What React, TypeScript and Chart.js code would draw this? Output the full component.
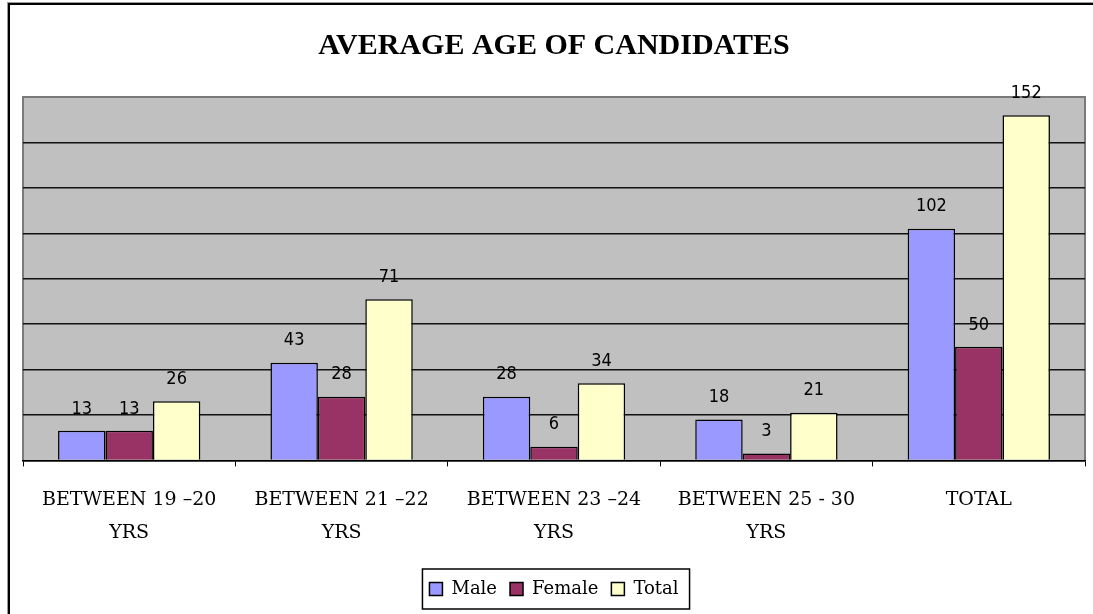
import React, { useEffect, useRef } from "react";
import { Chart, registerables } from "chart.js";

Chart.register(...registerables);

const categories: string[][] = [
  ["BETWEEN 19 \u201320", "YRS"],
  ["BETWEEN 21 \u201322", "YRS"],
  ["BETWEEN 23 \u201324", "YRS"],
  ["BETWEEN 25 - 30", "YRS"],
  ["TOTAL"],
];
const maleValues = [13, 43, 28, 18, 102];
const femaleValues = [13, 28, 6, 3, 50];
const totalValues = [26, 71, 34, 21, 152];
const seriesNames = ["Male", "Female", "Total"];
const yMax = 160;
const yStep = 20;

const SERIF = '"DejaVu Serif", serif';

const backgroundPlugin = {
  id: "bgPlugin",
  beforeDraw(chart: any) {
    const { ctx, chartArea, width, height } = chart;
    ctx.save();
    ctx.fillStyle = "#ffffff";
    ctx.fillRect(0, 0, width, height);
    // outer border
    ctx.fillStyle = "#9a9a9a";
    ctx.fillRect(7, 2, 1, height);
    ctx.fillRect(7, 2, width, 1);
    ctx.fillStyle = "#000000";
    ctx.fillRect(8, 3, 2, height);
    ctx.fillRect(8, 3, width, 2);
    // plot area
    ctx.fillStyle = "#c0c0c0";
    ctx.fillRect(chartArea.left, chartArea.top, chartArea.right - chartArea.left, chartArea.bottom - chartArea.top);
    ctx.strokeStyle = "#7a7a7a";
    ctx.lineWidth = 2;
    ctx.beginPath();
    ctx.moveTo(chartArea.left, chartArea.bottom);
    ctx.lineTo(chartArea.left, chartArea.top);
    ctx.lineTo(chartArea.right, chartArea.top);
    ctx.lineTo(chartArea.right, chartArea.bottom);
    ctx.stroke();
    ctx.restore();
  },
};

const valueLabelPlugin = {
  id: "valueLabels",
  afterDatasetsDraw(chart: any) {
    const { ctx } = chart;
    ctx.save();
    ctx.font = '18px "DejaVu Sans Condensed", "DejaVu Sans", sans-serif';
    ctx.fillStyle = "#000000";
    ctx.textAlign = "center";
    ctx.textBaseline = "middle";
    chart.data.datasets.forEach((ds: any, i: number) => {
      const meta = chart.getDatasetMeta(i);
      meta.data.forEach((bar: any, j: number) => {
        ctx.fillText(String(ds.data[j]), bar.x, bar.y - 22);
      });
    });
    ctx.restore();
  },
};

const legendBoxPlugin = {
  id: "legendBox",
  afterDraw(chart: any) {
    const boxes = chart.legend && chart.legend.legendHitBoxes;
    if (!boxes || !boxes.length) return;
    let minX = Infinity, maxX = -Infinity, minY = Infinity, maxY = -Infinity;
    boxes.forEach((b: any) => {
      minX = Math.min(minX, b.left);
      maxX = Math.max(maxX, b.left + b.width);
      minY = Math.min(minY, b.top);
      maxY = Math.max(maxY, b.top + b.height);
    });
    const cy = (minY + maxY) / 2;
    const { ctx } = chart;
    ctx.save();
    ctx.strokeStyle = "#000000";
    ctx.lineWidth = 1.5;
    ctx.strokeRect(minX - 7, cy - 20, maxX - minX + 18, 40);
    ctx.restore();
  },
};

export default function App() {
  const canvasRef = useRef<HTMLCanvasElement | null>(null);

  useEffect(() => {
    document.body.style.margin = "0";
    document.body.style.overflow = "hidden";
    const canvas = canvasRef.current;
    if (!canvas) return;
    const chart = new Chart(canvas, {
      type: "bar",
      data: {
        labels: categories,
        datasets: [
          { label: seriesNames[0], data: maleValues, backgroundColor: "#9999ff" },
          { label: seriesNames[1], data: femaleValues, backgroundColor: "#993366" },
          { label: seriesNames[2], data: totalValues, backgroundColor: "#ffffcc" },
        ].map((d) => ({
          ...d,
          borderColor: "#000000",
          borderWidth: 1.5,
          categoryPercentage: 0.67,
          barPercentage: 1.0,
        })),
      },
      options: {
        responsive: false,
        animation: false,
        layout: { padding: { left: 23, right: 8, top: 0, bottom: 6 } },
        plugins: {
          title: {
            display: true,
            text: "AVERAGE AGE OF CANDIDATES",
            color: "#000000",
            font: { family: '"Liberation Serif", serif', size: 30, weight: "bold" },
            padding: { top: 28, bottom: 33 },
          },
          legend: {
            position: "bottom",
            labels: {
              color: "#000000",
              font: { family: SERIF, size: 18 },
              boxWidth: 13,
              boxHeight: 13,
              padding: 13,
            },
          },
          tooltip: { enabled: false },
        },
        scales: {
          x: {
            grid: {
              display: true,
              drawOnChartArea: false,
              drawTicks: true,
              tickLength: 6,
              color: "#000000",
            },
            border: { display: true, color: "#000000", width: 1.5 },
            ticks: {
              color: "#000000",
              font: { family: SERIF, size: 19, lineHeight: 1.7 },
              padding: 18,
              maxRotation: 0,
              autoSkip: false,
            },
          },
          y: {
            min: 0,
            max: yMax,
            ticks: { display: false, stepSize: yStep },
            border: { display: false },
            grid: {
              drawTicks: false,
              color: (c: any) => (c.tick && c.tick.value === yMax ? "rgba(0,0,0,0)" : "#111111"),
              lineWidth: 1.5,
            },
          },
        },
      },
      plugins: [backgroundPlugin, valueLabelPlugin, legendBoxPlugin],
    } as any);
    return () => chart.destroy();
  }, []);

  return <canvas ref={canvasRef} width={1093} height={614} style={{ display: "block" }} />;
}
